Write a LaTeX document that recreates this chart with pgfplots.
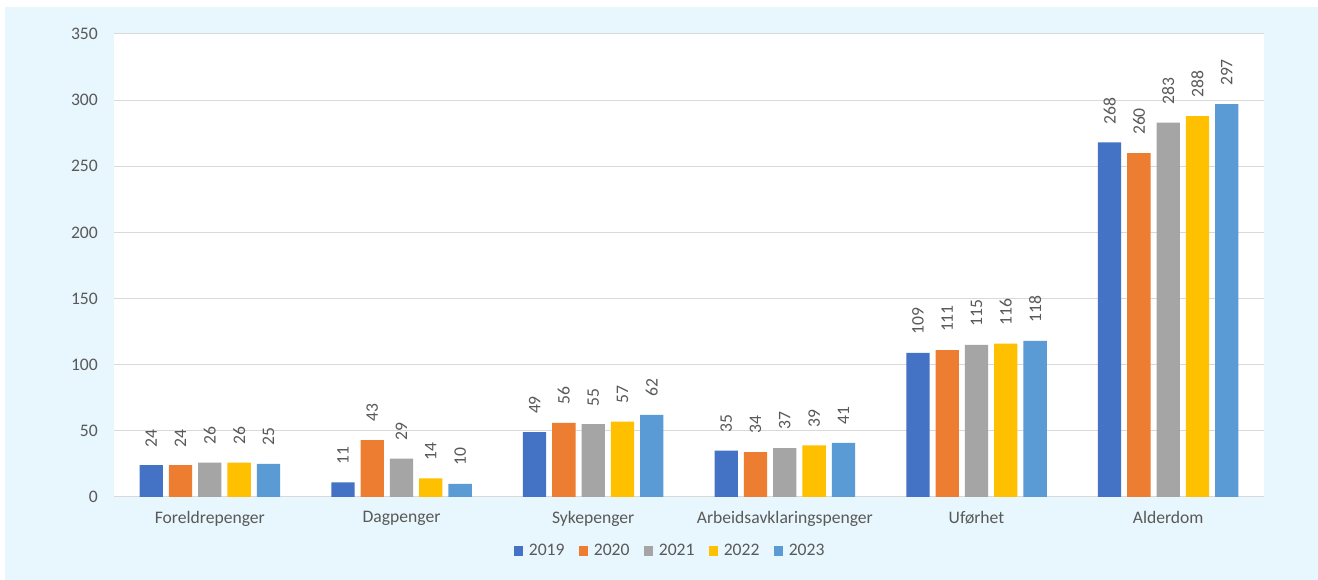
\documentclass[border=0pt]{standalone}
\usepackage{pgfplots}
\pgfplotsset{compat=1.18}
\usepackage{fontspec}
\setmainfont{Carlito}
\definecolor{bgblue}{HTML}{E8F6FD}
\definecolor{txt}{HTML}{595959}
\definecolor{gridc}{HTML}{D9D9D9}
\definecolor{cA}{HTML}{4472C4}
\definecolor{cB}{HTML}{ED7D31}
\definecolor{cC}{HTML}{A5A5A5}
\definecolor{cD}{HTML}{FFC000}
\definecolor{cE}{HTML}{5B9BD5}
\newcommand{\fs}{\fontsize{17.6}{20}\selectfont}
\begin{document}
\begin{tikzpicture}
\useasboundingbox (0,0) rectangle (1318pt,580pt);
\fill[bgblue] (5pt,0) rectangle (1318pt,573pt);
\begin{axis}[
  ybar, bar width=23.3pt, ybar=6pt,
  at={(114pt,83pt)}, anchor=south west,
  scale only axis, width=1150pt, height=463pt,
  xmin=-0.5, xmax=5.5, ymin=0, ymax=350,
  ytick={0,50,...,350},
  xtick={0,1,2,3,4,5},
  xticklabels={Foreldrepenger,Dagpenger,Sykepenger,Arbeidsavklaringspenger,Uførhet,Alderdom},
  major tick length=0pt,
  axis line style={draw=none},
  ymajorgrids=true, xmajorgrids=false,
  major grid style={draw=gridc, line width=1pt},
  axis background/.style={fill=white},
  /pgf/number format/assume math mode=true,
  ticklabel style={font=\fs, text=txt},
  xticklabel style={inner sep=0pt, anchor=north, yshift=-14pt},
  yticklabel style={inner sep=0pt, anchor=east, xshift=-16pt},
  nodes near coords,
  every node near coord/.append style={rotate=90, anchor=west, inner xsep=18pt, inner ysep=0pt, font=\fs, text=txt},
  every axis plot post/.append style={draw=none},
  legend image code/.code={\fill[#1,draw=none] (0pt,-4.65pt) rectangle (9.3pt,4.65pt);},
  legend columns=5,
  legend style={at={(rel axis cs:0.4835,-0.1166)}, anchor=center, draw=none, fill=none, font=\fs, text=txt,
    /tikz/every even column/.append style={column sep=12pt},
    /tikz/every odd column/.append style={column sep=4pt}},
]
\addplot[fill=cA] coordinates {(0,24) (1,11) (2,49) (3,35) (4,109) (5,268)};
\addplot[fill=cB] coordinates {(0,24) (1,43) (2,56) (3,34) (4,111) (5,260)};
\addplot[fill=cC] coordinates {(0,26) (1,29) (2,55) (3,37) (4,115) (5,283)};
\addplot[fill=cD] coordinates {(0,26) (1,14) (2,57) (3,39) (4,116) (5,288)};
\addplot[fill=cE] coordinates {(0,25) (1,10) (2,62) (3,41) (4,118) (5,297)};
\legend{2019,2020,2021,2022,2023}
\end{axis}
\end{tikzpicture}
\end{document}
